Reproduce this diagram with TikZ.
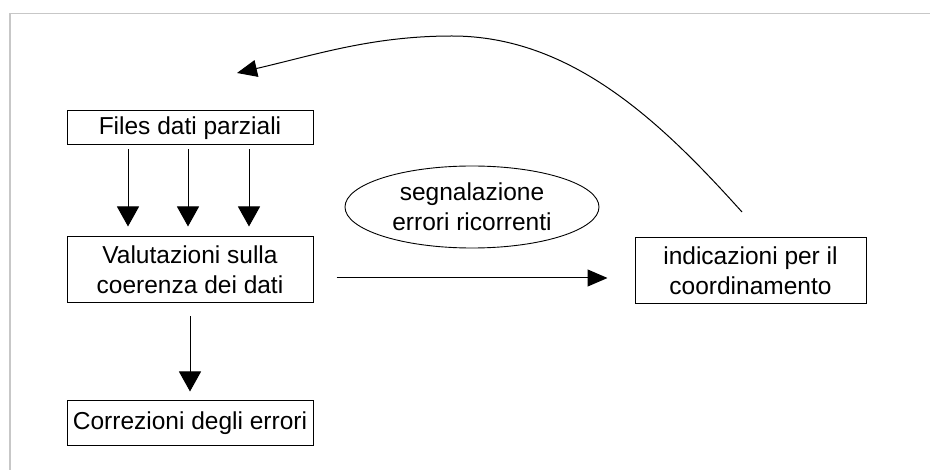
\documentclass[tikz,border=0pt]{standalone}
\usepackage{fontspec}
\setmainfont{Liberation Sans}
\usetikzlibrary{shapes.geometric,arrows.meta}
\begin{document}
\begin{tikzpicture}[x=1pt,y=-1pt,
  every node/.style={font=\fontsize{24.5}{30}\selectfont, inner sep=0pt, align=center},
  boxnode/.style={draw=black, line width=1pt, rectangle},
  ovalnode/.style={draw=black, line width=0.9pt, ellipse},
  conn/.style={line width=1pt, -{Triangle[length=20pt,width=22pt]}},
  connsmall/.style={line width=1pt, -{Triangle[length=20pt,width=17pt]}},
  frameline/.style={draw=black!22, line width=1.5pt}]
\useasboundingbox (0,0) rectangle (930,470);
\fill[white] (0,0) rectangle (930,470);
\draw[frameline] (10,470) -- (10,13.5) -- (930,13.5);

\node[boxnode, minimum width=246pt, minimum height=34pt] (files) at (190,128) {Files dati parziali};
\node[boxnode, minimum width=246pt, minimum height=66pt] (val) at (190,270) {Valutazioni sulla\\coerenza dei dati};
\node[boxnode, minimum width=246pt, minimum height=45pt] (corr) at (190,423.5) {Correzioni degli errori};
\node[ovalnode, minimum width=254pt, minimum height=82pt] (oval) at (472,207) {segnalazione\\errori ricorrenti};
\node[boxnode, minimum width=231pt, minimum height=66pt] (ind) at (750.5,271) {indicazioni per il\\coordinamento};

\draw[conn] ([xshift=-62pt,yshift=-4pt]files.south) -- ([xshift=-62pt,yshift=10pt]val.north);
\draw[conn] ([xshift=-2pt,yshift=-4pt]files.south) -- ([xshift=-2pt,yshift=10pt]val.north);
\draw[conn] ([xshift=59pt,yshift=-4pt]files.south) -- ([xshift=59pt,yshift=10pt]val.north);
\draw[conn] ([yshift=-13pt]val.south) -- ([yshift=9pt]corr.north);
\draw[connsmall] ([xshift=23pt,yshift=-8pt]val.east) -- ([xshift=-27pt,yshift=-7pt]ind.west);

\coordinate (cstart) at (742,212);
\coordinate (cpeak) at (452,36);
\coordinate (ctip) at (237,73);
\draw[connsmall] (cstart) .. controls (662,123) and (572,36) .. (cpeak)
  .. controls (372,36) and (315,55) .. (ctip);
\end{tikzpicture}
\end{document}
